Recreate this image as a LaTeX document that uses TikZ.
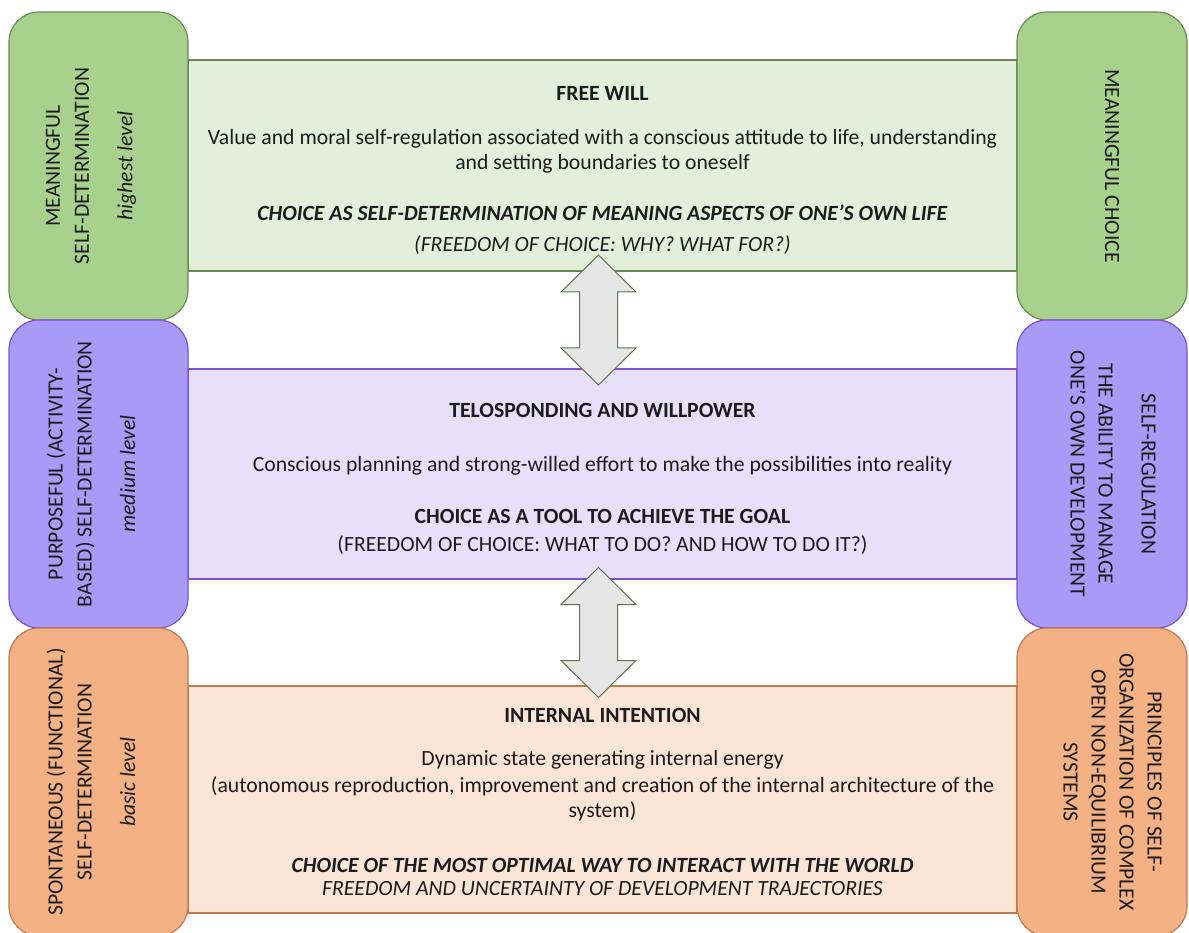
\documentclass[tikz,border=0pt]{standalone}
\usepackage{fontspec}
\setmainfont{Carlito}
\usetikzlibrary{calc}
\definecolor{fillgrn}{HTML}{A9D18E}
\definecolor{linegrn}{HTML}{6A8A55}
\definecolor{bggrn}{HTML}{E2EFDA}
\definecolor{fillpur}{HTML}{A99AF7}
\definecolor{linepur}{HTML}{7F4FD6}
\definecolor{bgpur}{HTML}{E6E0FA}
\definecolor{fillorg}{HTML}{F4B183}
\definecolor{lineorg}{HTML}{BE7A50}
\definecolor{bgorg}{HTML}{FBE5D6}
\definecolor{arrgray}{HTML}{E7E6E6}
\definecolor{arrline}{HTML}{5F7450}
\definecolor{inkblk}{HTML}{1C1C1C}

\begin{document}
\begin{tikzpicture}[x=1pt, y=-1pt, line width=1.2pt,
  midbox/.style={rectangle, inner sep=0, minimum width=829, minimum height=211},
  sidebox/.style={rectangle, rounded corners=30, inner sep=0, minimum width=179, minimum height=308},
  midtext/.style={align=center, inner sep=0, text=inkblk, font={\fontsize{21.7}{25}\selectfont}},
  sidetext/.style={align=center, inner sep=0, text=inkblk, font={\fontsize{21.7}{29}\selectfont}},
  dblarrow/.pic={\draw[fill=arrgray, draw=arrline, line width=1pt]
    (0,-65) -- (37.5,-28) -- (19,-28) -- (19,28) -- (37.5,28) -- (0,65)
    -- (-37.5,28) -- (-19,28) -- (-19,-28) -- (-37.5,-28) -- cycle;}]
  \useasboundingbox (0,0) rectangle (1189,933);

  % --- middle bands ---
  \node[midbox, fill=bggrn, draw=linegrn] (freewill) at (602.5,165.5) {};
  \node[midbox, fill=bgpur, draw=linepur, minimum height=210] (telos) at (602.5,474) {};
  \node[midbox, fill=bgorg, draw=lineorg, minimum height=227] (intent) at (602.5,799.5) {};

  % --- side boxes, left = level, right = mechanism ---
  \foreach \i/\yc/\col in {1/166/grn, 2/474/pur, 3/782/org} {
    \node[sidebox, fill=fill\col, draw=line\col] (l\i) at (98.5,\yc) {};
    \node[sidebox, fill=fill\col, draw=line\col, minimum width=170] (r\i) at (1102,\yc) {};
  }

  % block arrows between the bands
  \pic at ($(freewill.south)!0.5!(telos.north)+(-4,0)$) {dblarrow};
  \pic at ($(telos.south)!0.5!(intent.north)+(-4,0)$) {dblarrow};

  % --- band texts ---
  \node[midtext] (fwtxt) at ($(freewill.center)+(0,5)$) {\textbf{FREE WILL}\\[19pt]
    Value and moral self-regulation associated with a conscious attitude to life, understanding\\
    and setting boundaries to oneself\\[26pt]
    \textbf{\textit{CHOICE AS SELF-DETERMINATION OF MEANING ASPECTS OF ONE'S OWN LIFE}}\\[6pt]
    \textit{(FREEDOM OF CHOICE: WHY? WHAT FOR?)}};
  \node[midtext] (tltxt) at ($(telos.center)+(0,4.5)$) {\textbf{TELOSPONDING AND WILLPOWER}\\[29pt]
    Conscious planning and strong-willed effort to make the possibilities into reality\\[27pt]
    \textbf{CHOICE AS A TOOL TO ACHIEVE THE GOAL}\\[3pt]
    (FREEDOM OF CHOICE: WHAT TO DO? AND HOW TO DO IT?)};
  \node[midtext] (intxt) at ($(intent.center)+(0,2)$) {\textbf{INTERNAL INTENTION}\\[18pt]
    Dynamic state generating internal energy\\[2pt]
    (autonomous reproduction, improvement and creation of the internal architecture of the\\
    system)\\[30pt]
    \textbf{\textit{CHOICE OF THE MOST OPTIMAL WAY TO INTERACT WITH THE WORLD}}\\[-2pt]
    \textit{FREEDOM AND UNCERTAINTY OF DEVELOPMENT TRAJECTORIES}};

  % --- side texts ---
  \node[sidetext, rotate=90] (l1txt) at ($(l1.center)+(-7.5,0)$)
    {MEANINGFUL\\SELF-DETERMINATION\\[14.5pt]\textit{highest level}};
  \node[sidetext, rotate=90] (l2txt) at ($(l2.center)+(-7.5,0)$)
    {PURPOSEFUL (ACTIVITY-\\BASED) SELF-DETERMINATION\\[14.5pt]\textit{medium level}};
  \node[sidetext, rotate=90] (l3txt) at ($(l3.center)+(-7.5,0)$)
    {SPONTANEOUS (FUNCTIONAL)\\SELF-DETERMINATION\\[14.5pt]\textit{basic level}};
  \node[sidetext, rotate=-90] (r1txt) at ($(r1.center)+(10,0)$) {MEANINGFUL CHOICE};
  \node[sidetext, rotate=-90] (r2txt) at ($(r2.center)+(11,0)$)
    {SELF-REGULATION\\[14pt]THE ABILITY TO MANAGE\\[-1pt]ONE'S OWN DEVELOPMENT};
  \node[sidetext, rotate=-90, font={\fontsize{21.7}{28}\selectfont}] (r3txt) at ($(r3.center)+(10.5,0)$)
    {PRINCIPLES OF SELF-\\ORGANIZATION OF COMPLEX\\OPEN NON-EQUILIBRIUM\\SYSTEMS};
\end{tikzpicture}
\end{document}
